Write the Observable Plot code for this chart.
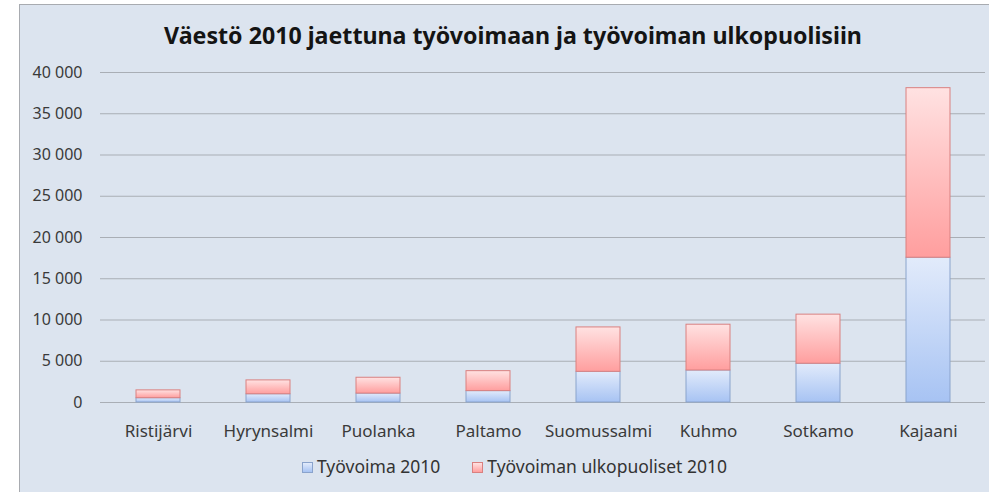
<!DOCTYPE html>
<html><head><meta charset="utf-8">
<script src="https://cdn.jsdelivr.net/npm/d3@7"></script>
<script src="https://cdn.jsdelivr.net/npm/@observablehq/plot@0.6"></script>
<style>
html,body{margin:0;padding:0;background:#fff;width:989px;height:492px;overflow:hidden;font-family:"Noto Sans",sans-serif;}
#frame{position:absolute;left:19px;top:4px;width:990px;height:500px;background:#dce4ef;border:1px solid #a8abb0;box-sizing:border-box;}
#title{position:absolute;left:0;top:20px;width:1026px;text-align:center;font-weight:bold;font-size:23.2px;line-height:30px;color:#141414;white-space:nowrap;}
#chart{position:absolute;left:0;top:60px;}
#legend{position:absolute;left:0;top:454px;width:1029px;text-align:center;font-size:17.5px;line-height:24px;color:#333;white-space:nowrap;}
#legend .sw{display:inline-block;width:9px;height:9px;margin-right:4px;vertical-align:0px;}
#legend .item{margin:0 16px;}
</style>
</head><body>
<div id="frame"></div>
<div id="title">Väestö 2010 jaettuna työvoimaan ja työvoiman ulkopuolisiin</div>
<div id="chart"></div>
<div id="legend"></div>
<script>
// Data
const cities = ["Ristijärvi", "Hyrynsalmi", "Puolanka", "Paltamo", "Suomussalmi", "Kuhmo", "Sotkamo", "Kajaani"];
const labor2010 = [520, 1000, 1080, 1380, 3720, 3880, 4700, 17550];
const outside2010 = [950, 1680, 1920, 2420, 5380, 5550, 5950, 20550];
const seriesNames = ["Työvoima 2010", "Työvoiman ulkopuoliset 2010"];
const yTicks = [0, 5000, 10000, 15000, 20000, 25000, 30000, 35000, 40000];

const laborRows = cities.map((c, i) => ({city: c, y1: 0, y2: labor2010[i]}));
const outsideRows = cities.map((c, i) => ({city: c, y1: labor2010[i], y2: labor2010[i] + outside2010[i]}));

const fmt = d3.formatLocale({decimal: ",", thousands: " ", grouping: [3], currency: ["", ""]}).format(",");

const NS = "http://www.w3.org/2000/svg";
function defsMark() {
  const defs = document.createElementNS(NS, "defs");
  const grads = [
    ["gBlue", "#e2ebfb", "#a7c3f3"],
    ["gRed", "#ffe2e2", "#ff9e9e"]
  ];
  for (const [id, c1, c2] of grads) {
    const g = document.createElementNS(NS, "linearGradient");
    g.setAttribute("id", id);
    g.setAttribute("x1", "0"); g.setAttribute("y1", "0");
    g.setAttribute("x2", "0"); g.setAttribute("y2", "1");
    const s1 = document.createElementNS(NS, "stop");
    s1.setAttribute("offset", "0"); s1.setAttribute("stop-color", c1);
    const s2 = document.createElementNS(NS, "stop");
    s2.setAttribute("offset", "1"); s2.setAttribute("stop-color", c2);
    g.append(s1, s2);
    defs.append(g);
  }
  return defs;
}

const chart = Plot.plot({
  width: 989,
  height: 385,
  marginTop: 12,
  marginBottom: 43,
  marginLeft: 100,
  marginRight: 4,
  style: {background: "transparent", fontFamily: "'Noto Sans', sans-serif", fontSize: "16px", color: "#404040"},
  x: {type: "band", domain: cities, paddingInner: 0.6, paddingOuter: 0.3, label: null},
  y: {domain: [0, 40000], label: null},
  marks: [
    defsMark,
    Plot.gridY(yTicks, {stroke: "#a9aeb5", strokeOpacity: 1, strokeWidth: 1}),
    Plot.axisY(yTicks, {tickSize: 0, tickPadding: 18, tickFormat: fmt, fontSize: 16, fill: "#3a3a3a"}),
    Plot.axisX({tickSize: 0, tickPadding: 22, fontSize: 17, fill: "#3a3a3a", label: null}),
    Plot.rectY(laborRows, {x: "city", y1: "y1", y2: "y2", fill: "url(#gBlue)", stroke: "#8aa3cc", strokeWidth: 1}),
    Plot.rectY(outsideRows, {x: "city", y1: "y1", y2: "y2", fill: "url(#gRed)", stroke: "#d98080", strokeWidth: 1})
  ]
});
document.getElementById("chart").append(chart);

const legend = document.getElementById("legend");
const swatches = [
  ["linear-gradient(#e2ebfb,#a7c3f3)", "#8aa3cc"],
  ["linear-gradient(#ffe2e2,#ff9e9e)", "#d98080"]
];
seriesNames.forEach((name, i) => {
  const item = document.createElement("span");
  item.className = "item";
  const sw = document.createElement("span");
  sw.className = "sw";
  sw.style.background = swatches[i][0];
  sw.style.border = "1px solid " + swatches[i][1];
  item.append(sw, document.createTextNode(name));
  legend.append(item);
});
</script>
</body></html>
